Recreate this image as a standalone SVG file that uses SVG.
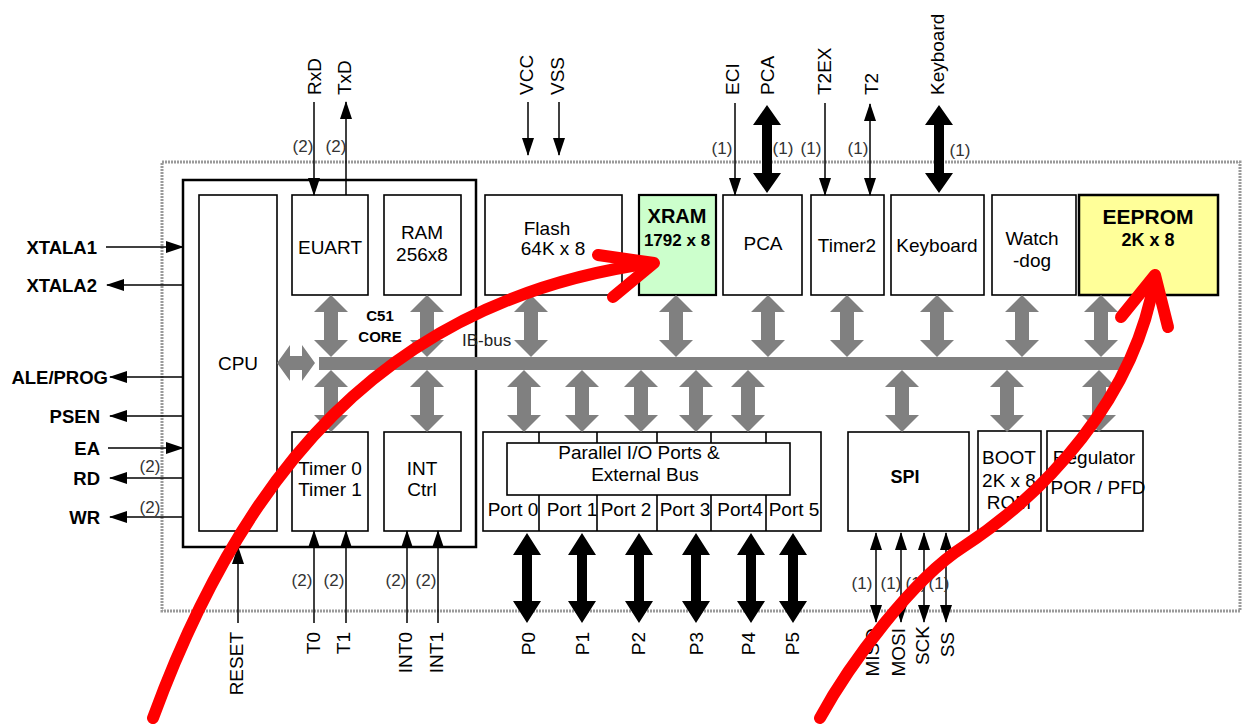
<svg xmlns="http://www.w3.org/2000/svg" width="1246" height="725" viewBox="0 0 1246 725">
<style>
.box{fill:#fff;stroke:#000;stroke-width:1.6}
.t{font-family:"Liberation Sans",Arial,sans-serif;font-size:19px;fill:#000;text-anchor:middle;dominant-baseline:central}
.b{font-weight:bold}
.l{text-anchor:end;font-weight:bold;font-size:18.5px}
.rs{text-anchor:start}
.re{text-anchor:end}
.n{font-size:17px;fill:#333}
.sig{stroke:#000;stroke-width:1.5;fill:none}
.ga{fill:#808080}
.ba{fill:#000}
.red{stroke:#f00;stroke-width:12;fill:none;stroke-linecap:round;stroke-linejoin:round}
</style>
<defs>
<marker id="ah" viewBox="0 0 18 12" refX="17" refY="6" markerWidth="18" markerHeight="12" markerUnits="userSpaceOnUse" orient="auto-start-reverse"><path d="M0,0 L18,6 L0,12 z" fill="#000"/></marker>
<path id="gv" d="M0,0 L17,17 L7,17 L7,45 L17,45 L0,62 L-17,45 L-7,45 L-7,17 L-17,17 Z"/>
<path id="bv" d="M0,0 L14,20 L5,20 L5,68 L14,68 L0,88 L-14,68 L-5,68 L-5,20 L-14,20 Z"/>
<path id="pv" d="M0,0 L14,22 L5,22 L5,68 L14,68 L0,90 L-14,68 L-5,68 L-5,22 L-14,22 Z"/>
</defs>
<rect width="1246" height="725" fill="#fff"/>
<g id="chip-boundary"><rect x="162" y="162" width="1078" height="449" fill="none" stroke="#9a9a9a" stroke-width="3" stroke-dasharray="2 1"/></g>
<g id="c51-core"><rect x="183" y="180" width="293" height="367" fill="none" stroke="#000" stroke-width="2.5"/>
<text class="t b" x="380" y="315" style="font-size:15px">C51</text><text class="t b" x="380" y="336" style="font-size:15px">CORE</text></g>
<g id="ib-bus"><rect x="319" y="357" width="811" height="13" class="ga"/><text class="t rs" x="462" y="340" style="font-size:17px;fill:#222">IB-bus</text></g>
<g id="cpu"><rect class="box" x="199" y="195" width="78" height="336"/><text class="t" x="238" y="363">CPU</text></g>
<g id="euart"><rect class="box" x="292" y="195" width="76" height="100"/><text class="t" x="330" y="247">EUART</text></g>
<g id="ram"><rect class="box" x="384" y="195" width="77" height="100"/><text class="t" x="422" y="232">RAM</text><text class="t" x="422" y="254">256x8</text></g>
<g id="timer01"><rect class="box" x="292" y="432" width="76" height="99"/><text class="t" x="330" y="468">Timer 0</text><text class="t" x="330" y="489">Timer 1</text></g>
<g id="intctrl"><rect class="box" x="384" y="432" width="77" height="99"/><text class="t" x="422" y="468">INT</text><text class="t" x="422" y="489">Ctrl</text></g>
<g id="flash"><rect class="box" x="485" y="195" width="137" height="100"/><text class="t" x="547" y="228">Flash</text><text class="t" x="553" y="248">64K x 8</text></g>
<g id="xram"><rect class="box" x="639" y="195" width="77" height="100" style="fill:#ccffcc;stroke-width:2.2"/><text class="t b" x="677" y="216" style="font-size:20px">XRAM</text><text class="t b" x="677" y="240" style="font-size:17px">1792 x 8</text></g>
<g id="pca"><rect class="box" x="723" y="195" width="79" height="100"/><text class="t" x="763" y="243">PCA</text></g>
<g id="timer2"><rect class="box" x="811" y="195" width="73" height="100"/><text class="t" x="847" y="245">Timer2</text></g>
<g id="keyboard"><rect class="box" x="891" y="195" width="93" height="100"/><text class="t" x="937" y="245">Keyboard</text></g>
<g id="watchdog"><rect class="box" x="992" y="195" width="84" height="100"/><text class="t" x="1032" y="238">Watch</text><text class="t" x="1032" y="260">-dog</text></g>
<g id="eeprom"><rect class="box" x="1079" y="195" width="139" height="100" style="fill:#ffff99;stroke-width:2.5"/><text class="t b" x="1148" y="216" style="font-size:21px">EEPROM</text><text class="t b" x="1148" y="240" style="font-size:18px">2K x 8</text></g>
<g id="ports"><rect class="box" x="483" y="432" width="338" height="99"/>
<path d="M539,432V443M597,432V443M657,432V443M711,432V443M766,432V443M539,495V531M597,495V531M657,495V531M711,495V531M766,495V531" stroke="#000" stroke-width="1.6"/>
<rect class="box" x="507" y="443" width="283" height="52"/>
<text class="t" x="639" y="452">Parallel I/O Ports &amp;</text><text class="t" x="645" y="474">External Bus</text>
<text class="t" x="513" y="509">Port 0</text><text class="t" x="572" y="509">Port 1</text><text class="t" x="626" y="509">Port 2</text><text class="t" x="685" y="509">Port 3</text><text class="t" x="740" y="509">Port4</text><text class="t" x="794" y="509">Port 5</text></g>
<g id="spi"><rect class="box" x="848" y="432" width="121" height="99"/><text class="t b" x="905" y="477" style="font-size:18px">SPI</text></g>
<g id="boot"><rect class="box" x="978" y="431" width="63" height="100"/><text class="t" x="1009" y="457">BOOT</text><text class="t" x="1009" y="480">2K x 8</text><text class="t" x="1009" y="502">ROM</text></g>
<g id="regulator"><rect class="box" x="1047" y="431" width="96" height="100"/><text class="t" x="1094" y="457">Regulator</text><text class="t" x="1098" y="487">POR / PFD</text></g>
<g id="connectors">
<g class="ga">
<use href="#gv" x="331" y="295"/><use href="#gv" x="427" y="295"/><use href="#gv" x="531" y="295"/><use href="#gv" x="676" y="295"/><use href="#gv" x="768" y="295"/><use href="#gv" x="847" y="295"/><use href="#gv" x="937" y="295"/><use href="#gv" x="1022" y="295"/><use href="#gv" x="1101" y="295"/>
<use href="#gv" x="331" y="370"/><use href="#gv" x="427" y="370"/><use href="#gv" x="524" y="370"/><use href="#gv" x="582" y="370"/><use href="#gv" x="641" y="370"/><use href="#gv" x="696" y="370"/><use href="#gv" x="748" y="370"/><use href="#gv" x="902" y="370"/><use href="#gv" x="1007" y="370"/><use href="#gv" x="1099" y="370"/>
<path d="M277,363 L290,345 L290,356 L302,356 L302,345 L315,363 L302,381 L302,370 L290,370 L290,381 Z"/>
</g>
<g class="ba">
<use href="#bv" x="767" y="105"/><use href="#bv" x="939" y="105"/>
<use href="#pv" x="527" y="533"/><use href="#pv" x="582" y="533"/><use href="#pv" x="639" y="533"/><use href="#pv" x="696" y="533"/><use href="#pv" x="751" y="533"/><use href="#pv" x="793" y="533"/>
</g>
<g class="sig" marker-end="url(#ah)">
<path d="M314,102V195"/><path d="M346,195V102"/><path d="M528,102V155"/><path d="M559,102V155"/><path d="M735,103V195"/><path d="M825,103V195"/>
<path d="M106,247H183"/><path d="M183,285H107"/><path d="M183,377H110"/><path d="M183,416H110"/><path d="M108,448H183"/><path d="M183,478H110"/><path d="M183,517H110"/>
<path d="M238,623V547"/><path d="M314,623V531"/><path d="M346,623V531"/><path d="M407,623V531"/><path d="M438,623V531"/>
</g>
<g class="sig" marker-start="url(#ah)" marker-end="url(#ah)">
<path d="M870,104V195"/><path d="M876,533V622"/><path d="M901,533V622"/><path d="M924,533V622"/><path d="M946,533V622"/>
</g>
</g>
<g id="signal-labels">
<text class="t rs" transform="translate(314,95) rotate(-90)">RxD</text>
<text class="t rs" transform="translate(344,95) rotate(-90)">TxD</text>
<text class="t rs" transform="translate(526,95) rotate(-90)">VCC</text>
<text class="t rs" transform="translate(557,95) rotate(-90)">VSS</text>
<text class="t rs" transform="translate(732,95) rotate(-90)">ECI</text>
<text class="t rs" transform="translate(767,95) rotate(-90)">PCA</text>
<text class="t rs" transform="translate(824,95) rotate(-90)">T2EX</text>
<text class="t rs" transform="translate(871,95) rotate(-90)">T2</text>
<text class="t rs" transform="translate(937,95) rotate(-90)">Keyboard</text>
<text class="t re" transform="translate(236,632) rotate(-90)">RESET</text>
<text class="t re" transform="translate(313,632) rotate(-90)">T0</text>
<text class="t re" transform="translate(343,632) rotate(-90)">T1</text>
<text class="t re" transform="translate(405,632) rotate(-90)">INT0</text>
<text class="t re" transform="translate(436,632) rotate(-90)">INT1</text>
<text class="t re" transform="translate(528,632) rotate(-90)">P0</text>
<text class="t re" transform="translate(582,632) rotate(-90)">P1</text>
<text class="t re" transform="translate(638,632) rotate(-90)">P2</text>
<text class="t re" transform="translate(696,632) rotate(-90)">P3</text>
<text class="t re" transform="translate(748,632) rotate(-90)">P4</text>
<text class="t re" transform="translate(792,632) rotate(-90)">P5</text>
<text class="t re" transform="translate(872,628) rotate(-90)">MISO</text>
<text class="t re" transform="translate(898,628) rotate(-90)">MOSI</text>
<text class="t re" transform="translate(922,626) rotate(-90)">SCK</text>
<text class="t re" transform="translate(947,632) rotate(-90)">SS</text>
<text class="t l" x="97" y="247">XTALA1</text>
<text class="t l" x="97" y="285">XTALA2</text>
<text class="t l" x="108" y="377">ALE/PROG</text>
<text class="t l" x="100" y="416">PSEN</text>
<text class="t l" x="100" y="448">EA</text>
<text class="t l" x="100" y="478">RD</text>
<text class="t l" x="100" y="517">WR</text>
<text class="t n" x="303" y="146">(2)</text><text class="t n" x="336" y="146">(2)</text>
<text class="t n" x="722" y="148">(1)</text><text class="t n" x="783" y="148">(1)</text><text class="t n" x="811" y="148">(1)</text><text class="t n" x="858" y="148">(1)</text><text class="t n" x="960" y="150">(1)</text>
<text class="t n" x="150" y="466">(2)</text><text class="t n" x="150" y="507">(2)</text>
<text class="t n" x="302" y="580">(2)</text><text class="t n" x="334" y="580">(2)</text><text class="t n" x="396" y="580">(2)</text><text class="t n" x="426" y="580">(2)</text>
<text class="t n" x="862" y="583">(1)</text><text class="t n" x="891" y="583">(1)</text><text class="t n" x="916" y="583">(1)</text><text class="t n" x="939" y="583">(1)</text>
</g>
<g id="annotations">
<path class="red" d="M153,718 C240,480 380,300 652,263"/>
<path class="red" d="M598,255 L654,263 L613,297"/>
<path class="red" d="M820,718 C850,663 913,579 963,547 C1043,495 1135,400 1155,277"/>
<path class="red" d="M1121,317 L1155,275 L1168,327"/>
</g>
</svg>
